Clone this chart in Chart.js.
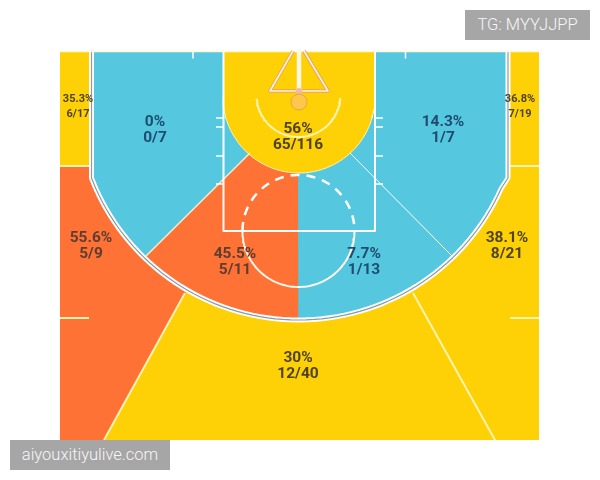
<!DOCTYPE html>
<html lang="en">
<head>
  <meta charset="UTF-8">
  <title>Shot chart</title>
  <script src="https://cdn.jsdelivr.net/npm/chart.js"></script>
  <style>
    body { margin: 0; background: #fff; width: 600px; height: 480px; position: relative; overflow: hidden; }
    canvas { position: absolute; left: 0; top: 0; }
    .tag {
      position: absolute;
      background: #a6a6a6;
      color: #f6f6f6;
      font: 300 16.5px Roboto, sans-serif;
      height: 30px;
      line-height: 30px;
      text-align: center;
    }
  </style>
</head>
<body>
  <canvas id="court" width="600" height="480"></canvas>
  <div class="tag" style="left:465px;top:10px;width:125px">TG: MYYJJPP</div>
  <div class="tag" style="left:10px;top:440px;width:160px">aiyouxitiyulive.com</div>

  <script>
    // Zone figures as printed on the chart
    const zonePct = ['35.3%', '36.8%', '0%', '14.3%', '56%', '55.6%', '45.5%', '7.7%', '38.1%', '30%'];
    const zoneShots = ['6/17', '7/19', '0/7', '1/7', '65/116', '5/9', '5/11', '1/13', '8/21', '12/40'];
    const zoneX = [78, 520, 155, 443, 298, 91, 235, 364, 507, 298];
    const zoneY = [99.5, 99.5, 122.5, 122.5, 129.5, 238.5, 254.5, 254.5, 238.5, 358.5];

    const BLUE = '#55c8e0', ORANGE = '#fe7235', YELLOW = '#fed006';
    const CREAM = '#fff4b0', WHITE = '#ffffff';

    const hoop = { x: 298.5, y: 98 };
    const lane = { x: 298.5, y: 231 };

    function arc(c, r, from, to, step) {
      const pts = [];
      const n = Math.ceil(Math.abs(to - from) / (step || 2));
      for (let i = 0; i <= n; i++) {
        const a = (from + (to - from) * i / n) * Math.PI / 180;
        pts.push({ x: c.x + r * Math.cos(a), y: c.y + r * Math.sin(a) });
      }
      return pts;
    }
    const xy = (x, y) => ({ x, y });

    // Zones, in court units (one unit per picture pixel)
    const perimeter = [xy(60, 51), xy(539, 51), xy(539, 440), xy(60, 440)];
    const leftWing = [xy(60, 166), xy(91, 166), xy(91, 182), ...arc(hoop, 222, 158, 120), xy(104, 440), xy(60, 440)];
    const insideArc = [xy(91, 51), xy(508, 51), xy(508, 182), ...arc(hoop, 222, 22, 158), xy(91, 182)];
    const midLeft = [xy(250, 153), xy(298, 153), xy(298, 322), ...arc(hoop, 222, 90, 134)];
    const paint = [xy(223, 51), xy(375, 51), xy(375, 97), ...arc({ x: 299, y: 97 }, 76, 0, 180), xy(223, 97)];
    const threeLine = [xy(91.5, 51), xy(91.5, 178), ...arc(hoop, 222, 156, 24), xy(508, 178), xy(508, 51)];
    const stanchion = [xy(293, 51), xy(270, 91), xy(328, 91), xy(304, 51)];

    const layers = [
      { pts: perimeter, fill: YELLOW },
      { pts: leftWing, fill: ORANGE },
      { pts: insideArc, fill: BLUE },
      { pts: midLeft, fill: ORANGE },
      { pts: paint, fill: YELLOW },
      // zone separators
      { pts: [xy(250, 153), xy(146, 256)], line: '#ffe9c8', width: 1.5 },
      { pts: [xy(350, 153), xy(453, 257)], line: WHITE, width: 1 },
      { pts: [xy(185, 293), xy(104, 440)], line: CREAM, width: 2 },
      { pts: [xy(413, 293), xy(495, 440)], line: CREAM, width: 2 },
      { pts: [xy(60, 166), xy(89, 166)], line: CREAM, width: 2 },
      { pts: [xy(510, 166), xy(539, 166)], line: CREAM, width: 2 },
      { pts: arc({ x: 299, y: 97 }, 76, 0, 180), line: CREAM, width: 1 },
      // key and free throw circle
      { pts: [xy(223.5, 51), xy(223.5, 231), xy(375, 231), xy(375, 51)], line: WHITE, width: 2 },
      { pts: arc(lane, 56, 0, 180), line: '#fff6ec', width: 2 },
      { pts: arc(lane, 56, 180, 360), line: WHITE, width: 2.5, dash: [9, 7] },
      { pts: arc({ x: 298.5, y: 95 }, 42, 5, 175), line: CREAM, width: 2 },
      // hash marks
      { pts: [xy(216, 118), xy(223, 118)], line: WHITE, width: 1.5 },
      { pts: [xy(216, 127), xy(223, 127)], line: WHITE, width: 1.5 },
      { pts: [xy(216, 156), xy(223, 156)], line: WHITE, width: 1.5 },
      { pts: [xy(216, 184), xy(223, 184)], line: WHITE, width: 1.5 },
      { pts: [xy(375, 118), xy(383, 118)], line: WHITE, width: 1.5 },
      { pts: [xy(375, 127), xy(383, 127)], line: WHITE, width: 1.5 },
      { pts: [xy(375, 156), xy(383, 156)], line: WHITE, width: 1.5 },
      { pts: [xy(375, 184), xy(383, 184)], line: WHITE, width: 1.5 },
      { pts: [xy(193, 51), xy(193, 58)], line: WHITE, width: 1.5 },
      { pts: [xy(405.5, 51), xy(405.5, 58)], line: WHITE, width: 1.5 },
      { pts: [xy(60, 318), xy(89, 318)], line: CREAM, width: 2 },
      { pts: [xy(510, 318), xy(539, 318)], line: CREAM, width: 2 },
      // three point line: white band with a grey core
      { pts: threeLine, line: WHITE, width: 5 },
      { pts: threeLine, line: '#8e9aa6', width: 1.2 },
      { pts: [xy(60, 51.5), xy(539, 51.5)], line: '#fff8dc', width: 1.5 },
      // stanchion and backboard
      { pts: stanchion, line: '#eaa45a', width: 3.5 },
      { pts: stanchion, line: '#fff3e4', width: 1.6 },
      { pts: [xy(299, 51), xy(299, 91)], line: '#fff6ea', width: 4.5 },
      { pts: [xy(299, 91), xy(299, 95)], line: '#f3b8a0', width: 6 }
    ];

    function textColour(i) {
      if (i === 2 || i === 3 || i === 7) return '#1f4c70';
      if (i === 5 || i === 6) return '#5e3d33';
      return '#4e4322';
    }

    // Draws the two text rows at each anchor point of the label dataset
    const zoneLabelPlugin = {
      id: 'zoneLabels',
      afterDatasetsDraw(chart) {
        const meta = chart.getDatasetMeta(0);
        const ctx = chart.ctx;
        ctx.save();
        ctx.textAlign = 'center';
        ctx.textBaseline = 'middle';
        meta.data.forEach((pt, i) => {
          const small = i < 2;
          ctx.fillStyle = textColour(i);
          ctx.font = (small ? 'bold 11px' : 'bold 15.5px') + ' Roboto, sans-serif';
          ctx.fillText(zonePct[i], pt.x, pt.y);
          ctx.fillText(zoneShots[i], pt.x, pt.y + (small ? 15 : 15.5));
        });
        ctx.restore();
      }
    };

    const layerSets = layers.map(l => ({
      data: l.pts,
      showLine: true,
      pointRadius: 0,
      fill: l.fill ? 'shape' : false,
      backgroundColor: l.fill || 'transparent',
      borderColor: l.line || 'transparent',
      borderWidth: l.line ? l.width : 0,
      borderDash: l.dash || [],
      borderCapStyle: 'butt',
      borderJoinStyle: 'round',
      tension: 0
    }));

    // Chart.js paints the first dataset last, so the stack goes in reverse
    const datasets = [
      { data: zoneX.map((x, i) => ({ x, y: zoneY[i] })), showLine: false, pointRadius: 0 },
      { data: [xy(299, 102)], showLine: false, pointRadius: 8, backgroundColor: '#fdc64c', borderColor: '#eda63a', borderWidth: 1 },
      ...layerSets.reverse()
    ];

    new Chart(document.getElementById('court'), {
      type: 'scatter',
      data: { datasets },
      options: {
        responsive: false,
        animation: false,
        layout: { padding: 0, autoPadding: false },
        plugins: { legend: { display: false }, tooltip: { enabled: false } },
        scales: {
          x: { type: 'linear', display: false, min: 0, max: 600 },
          y: { type: 'linear', display: false, min: 0, max: 480, reverse: true }
        }
      },
      plugins: [zoneLabelPlugin]
    });
  </script>
</body>
</html>
